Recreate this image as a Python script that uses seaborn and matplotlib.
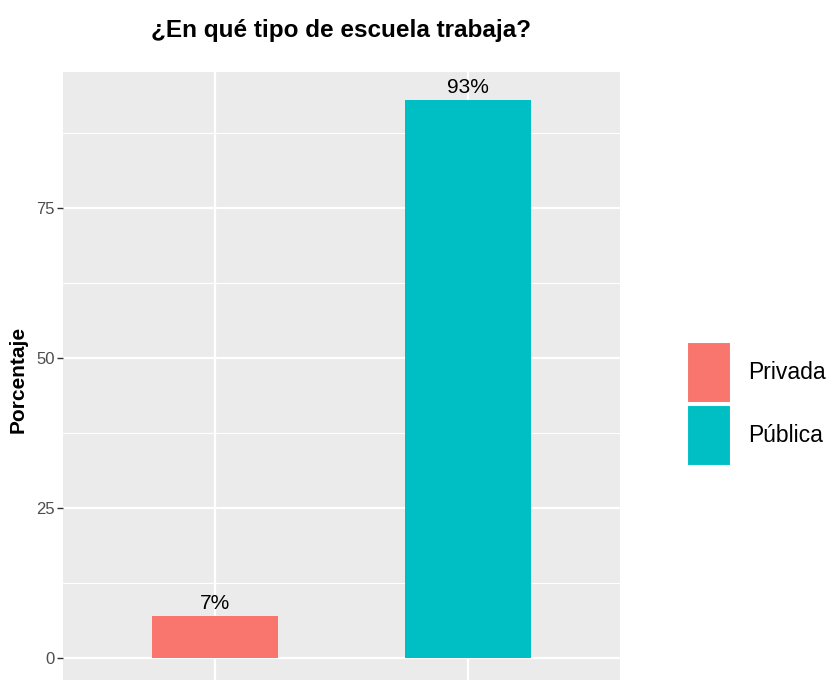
"""Bar chart: type of school where respondents work."""

import matplotlib

matplotlib.use("Agg")

import matplotlib.pyplot as plt
import pandas as pd
import seaborn as sns
from matplotlib.ticker import FixedLocator

categories = ["Privada", "Pública"]
percentages = [7, 93]
colors = ["#F8766D", "#00BFC4"]
y_ticks = [0, 25, 50, 75]
y_minor = [12.5, 37.5, 62.5, 87.5]

df = pd.DataFrame({"escuela": categories, "pct": percentages})

sns.set_theme(style="darkgrid")
plt.rcParams["font.family"] = ["Liberation Sans", "DejaVu Sans"]
plt.rcParams["text.color"] = "black"
plt.rcParams["axes.labelcolor"] = "black"

fig = plt.figure(figsize=(8.29, 6.8), dpi=100)
ax = fig.add_axes([63 / 829, -6 / 680, 557 / 829, 614 / 680])
ax.set_facecolor("#EBEBEB")

sns.barplot(data=df, x="escuela", y="pct", hue="escuela", palette=colors,
            width=0.5, dodge=False, legend=False, ax=ax, saturation=1,
            linewidth=0)

ax.set_xlim(-0.6, 1.6)
ax.set_ylim(-4.65, 97.65)
ax.yaxis.set_major_locator(FixedLocator(y_ticks))
ax.yaxis.set_minor_locator(FixedLocator(y_minor))
ax.grid(which="major", color="white", linewidth=1.6)
ax.grid(which="minor", axis="y", color="white", linewidth=0.8)
ax.set_axisbelow(True)
for s in ax.spines.values():
    s.set_visible(False)

ax.tick_params(axis="y", which="major", length=4, width=1, color="#333333",
               labelcolor="#4D4D4D", labelsize=12, pad=2, left=True)
ax.tick_params(axis="y", which="minor", length=0)
ax.tick_params(axis="x", length=0, labelbottom=False)
ax.set_xlabel("")
ax.set_ylabel("Porcentaje", fontsize=15, fontweight="bold", labelpad=6)

for cont in ax.containers:
    ax.bar_label(cont, labels=[f"{int(round(b.get_height()))}%" for b in cont],
                 padding=2, fontsize=15, color="black")

fig.text(341 / 829, 1 - 30 / 680, "¿En qué tipo de escuela trabaja?",
         ha="center", va="center", fontsize=17.5, fontweight="bold", color="black")

handles = [plt.Rectangle((0, 0), 1, 1, facecolor=c, edgecolor="white", linewidth=1.5)
           for c in colors]
fig.legend(handles, categories, loc="center left", bbox_to_anchor=(687 / 829, 1 - 404 / 680),
           frameon=False, fontsize=16.5, handlelength=1.9, handleheight=3.7,
           labelspacing=0.1, handletextpad=0.75, borderpad=0, borderaxespad=0)

fig.savefig("out.png", dpi=100, facecolor="white")
